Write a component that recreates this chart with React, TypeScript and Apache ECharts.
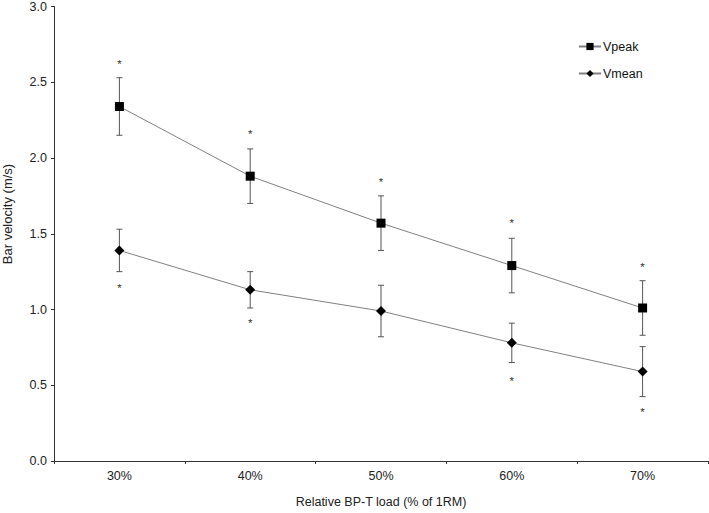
import React, { useEffect, useRef } from "react";
import * as echarts from "echarts";

const categories = ["30%", "40%", "50%", "60%", "70%"];
const vpeak = [2.34, 1.88, 1.57, 1.29, 1.01];
const vpeakSD = [0.19, 0.18, 0.18, 0.18, 0.18];
const vmean = [1.39, 1.13, 0.99, 0.78, 0.59];
const vmeanSD = [0.14, 0.12, 0.17, 0.13, 0.165];
const vpeakStar = [2.64, 2.18, 1.86, 1.59, 1.3];
const vmeanStar = [1.16, 0.93, null, 0.55, 0.34];
const yTicks = { min: 0, max: 3, interval: 0.5 };

const FONT = "Liberation Sans, Arial, sans-serif";

export default function App() {
  const ref = useRef<HTMLDivElement>(null);
  useEffect(() => {
    if (!ref.current) return;
    const chart = echarts.init(ref.current, undefined, { renderer: "svg" });

    const errData: number[][] = [];
    vpeak.forEach((v, i) => errData.push([i, v - vpeakSD[i], v + vpeakSD[i]]));
    vmean.forEach((v, i) => errData.push([i, v - vmeanSD[i], v + vmeanSD[i]]));

    const starData: number[][] = [];
    vpeakStar.forEach((v, i) => { if (v != null) starData.push([i, v]); });
    vmeanStar.forEach((v, i) => { if (v != null) starData.push([i, v as number]); });

    const errColor = "#555";
    chart.setOption({
      animation: false,
      backgroundColor: "#fff",
      grid: { left: 54, right: 1, top: 6, bottom: 51, containLabel: false },
      textStyle: { fontFamily: FONT },
      legend: {
        orient: "vertical",
        left: 573,
        top: 35,
        itemWidth: 22,
        itemHeight: 9,
        itemGap: 14,
        textStyle: { fontSize: 12.5, color: "#111", fontFamily: FONT, padding: [0, 0, 0, -3] },
        data: ["Vpeak", "Vmean"],
      },
      xAxis: {
        type: "category",
        data: categories,
        boundaryGap: true,
        name: "Relative BP-T load (% of 1RM)",
        nameLocation: "middle",
        nameGap: 34,
        nameTextStyle: { fontSize: 12.5, color: "#222", fontFamily: FONT },
        axisLine: { lineStyle: { color: "#333", width: 1 } },
        axisTick: { show: true, length: 3, lineStyle: { color: "#333" } },
        axisLabel: { fontSize: 12.5, color: "#222", margin: 8, fontFamily: FONT },
        splitLine: { show: false },
      },
      yAxis: {
        type: "value",
        min: yTicks.min,
        max: yTicks.max,
        interval: yTicks.interval,
        axisLine: { show: true, lineStyle: { color: "#333", width: 1 } },
        axisTick: { show: true, length: 3, lineStyle: { color: "#333" } },
        axisLabel: {
          fontSize: 12.5,
          color: "#222",
          margin: 7,
          fontFamily: FONT,
          formatter: (v: number) => v.toFixed(1),
        },
        splitLine: { show: false },
      },
      graphic: [
        {
          type: "text",
          x: 7,
          y: 214,
          rotation: Math.PI / 2,
          style: {
            text: "Bar velocity (m/s)",
            fontSize: 13,
            fontFamily: FONT,
            fill: "#222",
            textAlign: "center",
            textVerticalAlign: "middle",
          },
        },
      ],
      series: [
        {
          type: "custom",
          name: "err",
          z: 1,
          silent: true,
          itemStyle: { color: errColor },
          renderItem: (params: any, api: any) => {
            const x = api.value(0);
            const lo = api.coord([x, api.value(1)]);
            const hi = api.coord([x, api.value(2)]);
            const w = 3;
            const st = { stroke: errColor, lineWidth: 1 };
            return {
              type: "group",
              children: [
                { type: "line", shape: { x1: lo[0], y1: lo[1], x2: hi[0], y2: hi[1] }, style: st },
                { type: "line", shape: { x1: lo[0] - w, y1: lo[1], x2: lo[0] + w, y2: lo[1] }, style: st },
                { type: "line", shape: { x1: hi[0] - w, y1: hi[1], x2: hi[0] + w, y2: hi[1] }, style: st },
              ],
            };
          },
          data: errData,
        },
        {
          type: "line",
          name: "Vpeak",
          z: 3,
          data: vpeak,
          symbol: "rect",
          symbolSize: 9,
          itemStyle: { color: "#000" },
          lineStyle: { color: "#808080", width: 1 },
        },
        {
          type: "line",
          name: "Vmean",
          z: 3,
          data: vmean,
          symbol: "diamond",
          symbolSize: 10,
          itemStyle: { color: "#000" },
          lineStyle: { color: "#808080", width: 1 },
        },
        {
          type: "custom",
          name: "stars",
          z: 2,
          silent: true,
          itemStyle: { color: "#333" },
          renderItem: (params: any, api: any) => {
            const p = api.coord([api.value(0), api.value(1)]);
            return {
              type: "text",
              x: p[0],
              y: p[1] + 3,
              style: {
                text: "*",
                fontSize: 11.5,
                fontFamily: FONT,
                fill: "#333",
                textAlign: "center",
                textVerticalAlign: "middle",
              },
            };
          },
          data: starData,
        },
      ],
    });
    return () => chart.dispose();
  }, []);
  return <div ref={ref} style={{ width: 709, height: 513, position: "absolute", left: 0, top: 0 }} />;
}
